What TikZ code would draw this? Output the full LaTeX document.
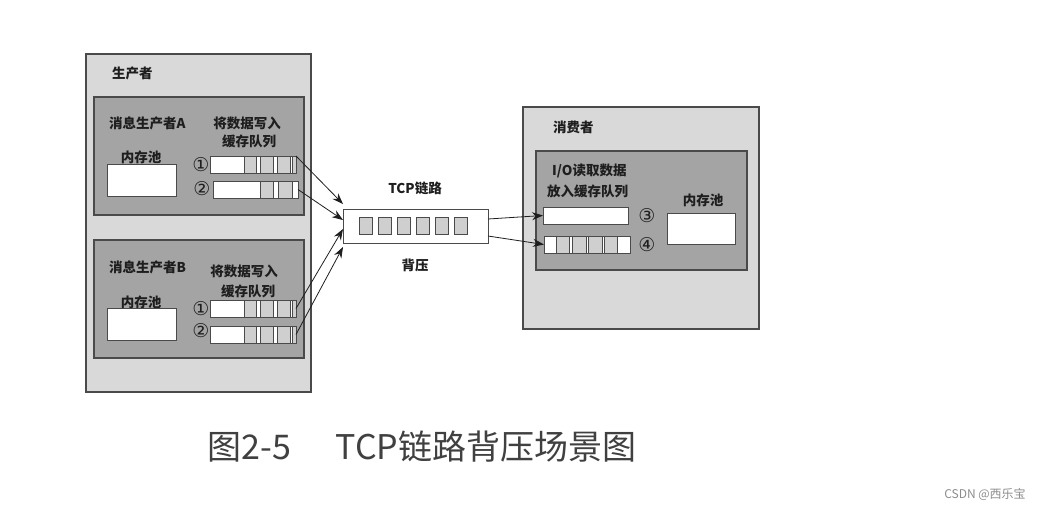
\documentclass[tikz,border=0pt]{standalone}
\usepackage{fontspec}
\setmainfont{Noto Sans CJK SC}
\newfontfamily\symfont{DejaVu Sans}
\usetikzlibrary{calc,arrows.meta}
\definecolor{outergray}{HTML}{D9D9D9}
\definecolor{innergray}{HTML}{A4A4A4}
\definecolor{cellgray}{HTML}{CFCFCF}
\definecolor{linegray}{HTML}{4A4A4A}
\definecolor{textgray}{HTML}{1E1E1E}
\begin{document}
\begin{tikzpicture}[x=1pt,y=-1pt,>={Stealth[length=11pt,width=8pt]},
    outerbox/.style={draw=linegray,fill=outergray,line width=1.2pt},
    innerbox/.style={draw=linegray,fill=innergray,line width=1.2pt},
    pool/.style={draw=linegray,fill=white,line width=1pt,anchor=north west,inner sep=0pt,outer sep=0pt},
    queue/.style={draw=linegray,fill=white,line width=1pt,anchor=north west,inner sep=0pt,outer sep=0pt,minimum height=17},
    cell/.style={draw=linegray,fill=cellgray,line width=0.6pt},
    lbl/.style={font=\fontsize{13.5}{15}\selectfont\bfseries,text=textgray,inner sep=0pt},
    num/.style={font=\symfont\fontsize{19}{20}\selectfont,text=textgray,inner sep=0pt},
    link/.style={->,draw=textgray,line width=0.8pt}]
  \useasboundingbox (0,0) rectangle (1050,512);

  % producer side
  \draw[outerbox] (86,54) rectangle (311,392);
  \node[lbl,anchor=west] (prod) at (112,73) {生产者};

  \draw[innerbox] (94,97) rectangle (304,215);
  \node[lbl,anchor=west] (pa) at (109,123) {消息生产者A};
  \node[lbl] (wa1) at (247,123) {将数据写入};
  \node[lbl] (wa2) at (249,141) {缓存队列};
  \node[lbl] (mpa) at (141,157) {内存池};
  \node[pool,minimum width=69,minimum height=32] (poola) at (107,164) {};
  \node[num] (na1) at (201,165) {①};
  \node[num] (na2) at (202,189) {②};
  \node[queue,minimum width=86] (qa1) at (210,156) {};
  \node[queue,minimum width=85] (qa2) at (213,181) {};

  \draw[innerbox] (94,240) rectangle (304,358);
  \node[lbl,anchor=west] (pb) at (109,267) {消息生产者B};
  \node[lbl] (wb1) at (244,271) {将数据写入};
  \node[lbl] (wb2) at (248,291) {缓存队列};
  \node[lbl] (mpb) at (141,302) {内存池};
  \node[pool,minimum width=69,minimum height=32] (poolb) at (107,308) {};
  \node[num] (nb1) at (201,309) {①};
  \node[num] (nb2) at (201,331) {②};
  \node[queue,minimum width=86] (qb1) at (210,300) {};
  \node[queue,minimum width=86] (qb2) at (210,326) {};

  % cells of the producer queues
  \foreach \q in {qa1,qb1,qb2}
    \foreach \o/\w in {34/12,50/13,67/13,82/4}
      \draw[cell] ($(\q.north west)+(\o,0)$) rectangle ++(\w,17);
  \foreach \o/\w in {47/13,65/14}
    \draw[cell] ($(qa2.north west)+(\o,0)$) rectangle ++(\w,17);

  % tcp link
  \node[draw=linegray,fill=white,line width=1pt,minimum width=145,minimum height=34,inner sep=0pt,outer sep=0pt] (tcp) at (415.5,226) {};
  \foreach \i in {0,...,5}
    \draw[cell,line width=0.8pt] ($(tcp.west)+(16+19*\i,-8.5)$) rectangle ++(13,17);
  \node[lbl] (tcplbl) at (415,188) {TCP链路};
  \node[lbl] (bp) at (415,265) {背压};

  % consumer side
  \draw[outerbox] (523,107) rectangle (759,329);
  \node[lbl,anchor=west] (cons) at (553,127) {消费者};
  \draw[innerbox] (536,151) rectangle (747,270);
  \node[lbl,anchor=west] (io1) at (552,171) {I/O读取数据};
  \node[lbl,anchor=west] (io2) at (547,191) {放入缓存队列};
  \node[queue,minimum width=85] (q3) at (543,207) {};
  \node[queue,minimum width=86] (q4) at (544,236) {};
  \foreach \o/\w in {12/13,28/14,44/14,60/13}
    \draw[cell] ($(q4.north west)+(\o,0)$) rectangle ++(\w,17);
  \node[num] (n3) at (647,216) {③};
  \node[num] (n4) at (647,245) {④};
  \node[lbl] (mpc) at (703,200) {内存池};
  \node[pool,minimum width=68,minimum height=31] (poolc) at (667,213) {};

  % connectors
  \coordinate (ta1) at ($(tcp.west)+(0,-22)$);
  \coordinate (ta2) at ($(tcp.west)+(0,-6)$);
  \coordinate (tb1) at ($(tcp.west)+(0,3)$);
  \coordinate (tb2) at ($(tcp.west)+(0,21)$);
  \coordinate (to1) at ($(tcp.east)+(0,-7)$);
  \coordinate (to2) at ($(tcp.east)+(0,10)$);
  \draw[link] (qa1.north east) -- (ta1);
  \draw[link] (qa2.east) -- (ta2);
  \draw[link] (qb1.east) -- (tb1);
  \draw[link] (qb2.east) -- (tb2);
  \draw[link] (to1) -- (q3.west);
  \draw[link] (to2) -- (q4.west);

  % caption
  \node[font=\fontsize{34}{36}\selectfont,text=black!75] (cap) at (422,447) {图2-5\hspace{1.3em}TCP链路背压场景图};
  \node[font=\fontsize{12}{14}\selectfont,text=black!45] (mark) at (985,494) {CSDN @西乐宝};
\end{tikzpicture}
\end{document}
